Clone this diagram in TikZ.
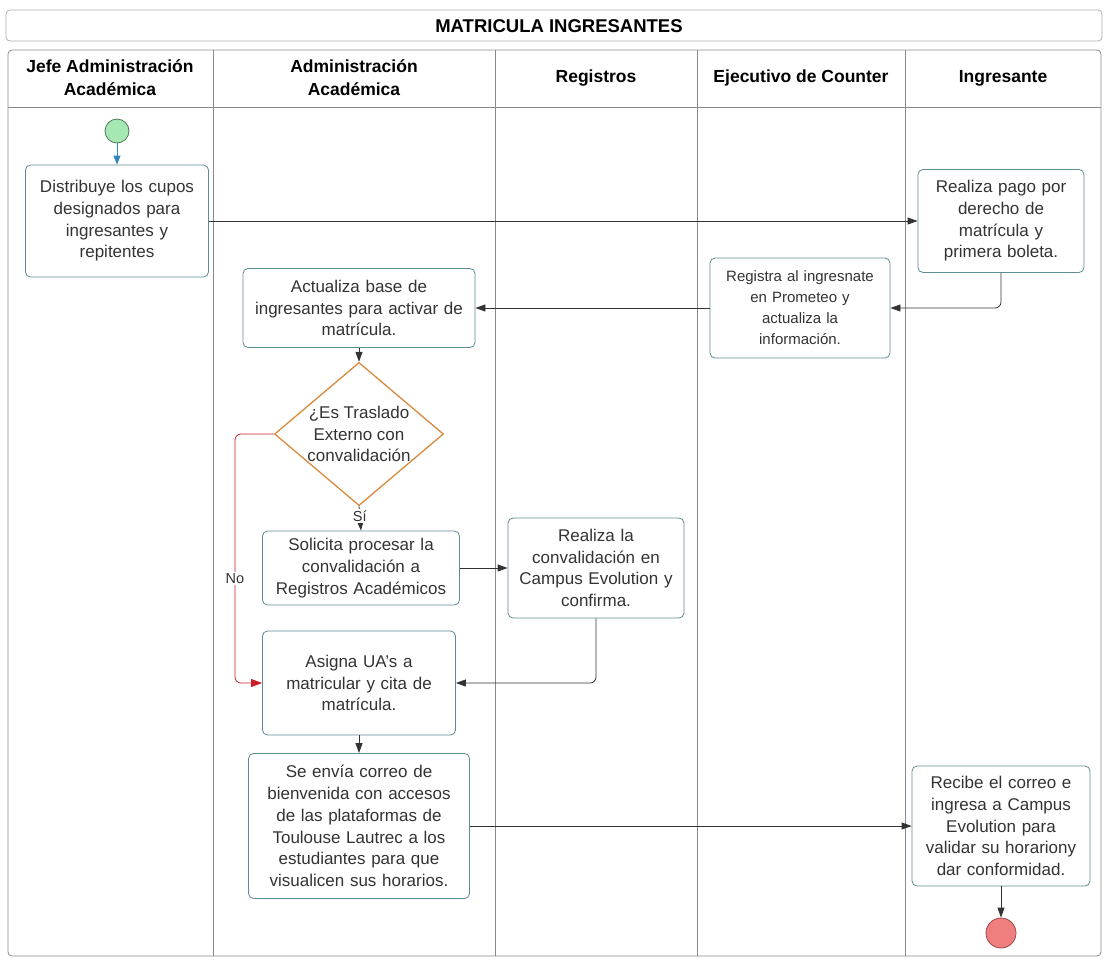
\documentclass[tikz,border=0pt]{standalone}
\usepackage{fontspec}
\setmainfont{Liberation Sans}
\usetikzlibrary{arrows.meta,shapes.geometric}

\definecolor{boxline}{HTML}{5E8C95}
\definecolor{laneline}{HTML}{8A8A8A}
\definecolor{startfill}{HTML}{A6E8B4}
\definecolor{startline}{HTML}{4E7A5A}
\definecolor{startarrow}{HTML}{2F86C4}
\definecolor{endfill}{HTML}{F07E7E}
\definecolor{endline}{HTML}{9A4A4A}
\definecolor{decline}{HTML}{D98A3C}
\definecolor{noline}{HTML}{C8202A}
\definecolor{txt}{HTML}{333333}

\tikzset{
  x=1pt, y=-1pt,
  every node/.style={text=txt},
  stepbox/.style={draw=boxline, line width=0.8pt, rounded corners=5pt, fill=white,
    align=center, inner sep=0pt, font=\fontsize{17}{21.7}\selectfont},
  smallbox/.style={stepbox, font=\fontsize{15}{21}\selectfont},
  decision/.style={diamond, draw=decline, line width=1.3pt, fill=white, aspect=1.18,
    align=center, inner sep=0pt, font=\fontsize{17}{21.7}\selectfont},
  lanehead/.style={font=\bfseries\fontsize{17.5}{23}\selectfont, align=center, text=black},
  flow/.style={draw=black!80, line width=0.8pt, rounded corners=6pt,
    -{Triangle[length=10pt,width=7pt]}},
  noflow/.style={flow, draw=noline, -{Triangle[length=11pt,width=8pt,fill=noline]}},
  lbl/.style={fill=white, inner sep=1.5pt, font=\fontsize{14.5}{16}\selectfont},
}

\begin{document}
\begin{tikzpicture}
\useasboundingbox (0,0) rectangle (1107,959);

% title bar
\draw[draw=laneline!70, line width=0.8pt, rounded corners=4pt] (6,10) rectangle (1102,41);
\node[font=\bfseries\fontsize{18.5}{20}\selectfont, text=black] (title) at (559,26) {MATRICULA INGRESANTES};

% swimlane frame, header row and lane dividers
\draw[draw=laneline, line width=0.8pt, rounded corners=4pt] (8,50) rectangle (1101,956);
\draw[draw=laneline, line width=0.8pt] (8,107) -- (1101,107);
\foreach \lx in {213,495,697,905}
  \draw[draw=laneline, line width=0.8pt] (\lx,50) -- (\lx,956);

\node[lanehead] (h1) at (110,78) {Jefe Administración\\Académica};
\node[lanehead] (h2) at (354,78) {Administración\\Académica};
\node[lanehead] (h3) at (596,78) {Registros};
\node[lanehead] (h4) at (801,78) {Ejecutivo de Counter};
\node[lanehead] (h5) at (1003,78) {Ingresante};

% events
\node[circle, draw=startline, line width=0.8pt, fill=startfill, minimum size=24pt, inner sep=0pt] (start) at (117,131) {};
\node[circle, draw=endline, line width=0.8pt, fill=endfill, minimum size=30pt, inner sep=0pt] (end) at (1001,933) {};

% activities
\node[stepbox, minimum width=183pt, minimum height=112pt, text width=176pt] (cupos) at (117,221)
  {Distribuye los cupos\\designados para\\ingresantes y\\repitentes};
\node[stepbox, minimum width=166pt, minimum height=103pt, text width=160pt] (pago) at (1001,221)
  {Realiza pago por\\derecho de\\matrícula y\\primera boleta.};
\node[smallbox, minimum width=180pt, minimum height=100pt, text width=175pt] (prom) at (800,308)
  {Registra al ingresnate\\en Prometeo y\\actualiza la\\información.};
\node[stepbox, minimum width=232pt, minimum height=79pt, text width=228pt] (base) at (359,308)
  {Actualiza base de\\ingresantes para activar de\\matrícula.};
\node[decision, minimum width=166pt, minimum height=140pt] (tras) at (359,434)
  {¿Es Traslado\\Externo con\\convalidación};
\node[stepbox, minimum width=197pt, minimum height=74pt, text width=194pt] (soli) at (361,568)
  {Solicita procesar la\\convalidación a\\Registros Académicos};
\node[stepbox, minimum width=176pt, minimum height=100pt, text width=174pt] (conv) at (596,568)
  {Realiza la\\convalidación en\\Campus Evolution y\\confirma.};
\node[stepbox, minimum width=193pt, minimum height=104pt, text width=188pt] (asig) at (359,683)
  {Asigna UA's a\\matricular y cita de\\matrícula.};
\node[stepbox, minimum width=221pt, minimum height=145pt, text width=218pt] (correo) at (359,826)
  {Se envía correo de\\bienvenida con accesos\\de las plataformas de\\Toulouse Lautrec a los\\estudiantes para que\\visualicen sus horarios.};
\node[stepbox, minimum width=178pt, minimum height=120pt, text width=175pt] (valida) at (1001,826)
  {Recibe el correo e\\ingresa a Campus\\Evolution para\\validar su horariony\\dar conformidad.};

% routing point of the "No" branch
\coordinate (nobend) at (235,434);

% connectors
\draw[flow, draw=startarrow, -{Triangle[length=9pt,width=7pt,fill=startarrow]}] (start) -- (cupos);
\draw[flow] (cupos.east) -- (pago.west);
\draw[flow] (pago.south) |- (prom.east);
\draw[flow] (prom.west) -- (base.east);
\draw[flow] (base.south) -- (tras.north);
\draw[flow] (tras.south) -- node[lbl, pos=0.4] (si) {Sí} (soli.north);
\draw[noflow] (tras.west) -- (nobend) |- node[lbl, pos=0.29] (no) {No} (asig.west);
\draw[flow] (soli.east) -- (conv.west);
\draw[flow] (conv.south) |- (asig.east);
\draw[flow] (asig.south) -- (correo.north);
\draw[flow] (correo.east) -- (valida.west);
\draw[flow] (valida.south) -- (end.north);
\end{tikzpicture}
\end{document}
